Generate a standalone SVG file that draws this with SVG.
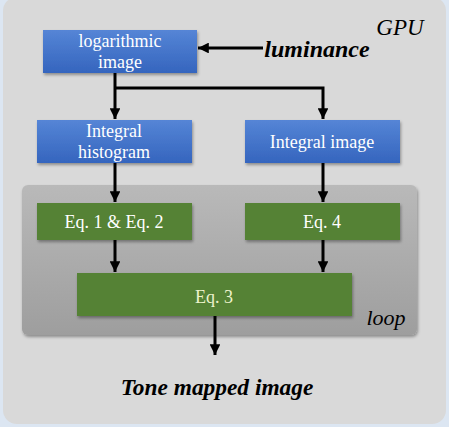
<svg xmlns="http://www.w3.org/2000/svg" width="449" height="427" viewBox="0 0 449 427" font-family="'Liberation Serif', 'DejaVu Serif', 'Times New Roman', serif">
<defs>
<linearGradient id="blue" x1="0" y1="0" x2="0" y2="1"><stop offset="0" stop-color="#5585d6"/><stop offset="1" stop-color="#3565be"/></linearGradient>
<linearGradient id="loopg" x1="0" y1="0" x2="0" y2="1"><stop offset="0" stop-color="#b9b9b9"/><stop offset="1" stop-color="#9e9e9e"/></linearGradient>
<filter id="sh" x="-10%" y="-10%" width="120%" height="130%"><feDropShadow dx="1" dy="2" stdDeviation="1.5" flood-color="#000" flood-opacity="0.35"/></filter>
<marker id="ah" viewBox="0 0 10 10" refX="10" refY="5" markerWidth="3.6" markerHeight="3.6" orient="auto" markerUnits="strokeWidth"><path d="M0,0 L10,5 L0,10 z" fill="#000"/></marker>
<style>
.bl{fill:url(#blue);filter:url(#sh)}
.gr{fill:#548235;filter:url(#sh)}
.t{font-size:18px;fill:#fff;text-anchor:middle}
.c{fill:none;stroke:#000;stroke-width:3}
.lbl{fill:#000}
</style>
</defs>
<rect width="449" height="427" fill="#dce6f2"/>
<rect x="3" y="-3" width="443" height="427" rx="14" fill="#d9d9d9"/>
<text class="lbl" x="400" y="35" font-size="23" font-style="italic" text-anchor="middle">GPU</text>
<g id="loop">
<rect x="22" y="185" width="395" height="150" rx="6" fill="url(#loopg)" filter="url(#sh)"/>
<text class="lbl" x="386" y="325" font-size="22" font-style="italic" text-anchor="middle">loop</text>
</g>
<g id="logimg"><rect class="bl" x="43" y="30" width="154" height="43"/><text class="t" x="120" y="47">logarithmic</text><text class="t" x="120" y="68">image</text></g>
<g id="inthist"><rect class="bl" x="37" y="120" width="155" height="43"/><text class="t" x="114" y="137">Integral</text><text class="t" x="114" y="158">histogram</text></g>
<g id="intimg"><rect class="bl" x="245" y="120" width="155" height="43"/><text class="t" x="322" y="148">Integral image</text></g>
<g id="eq12"><rect class="gr" x="37" y="203" width="155" height="37"/><text class="t" x="114" y="228">Eq. 1 &amp; Eq. 2</text></g>
<g id="eq4"><rect class="gr" x="245" y="203" width="155" height="37"/><text class="t" x="322" y="228">Eq. 4</text></g>
<g id="eq3"><rect class="gr" x="77" y="273" width="275" height="43"/><text class="t" x="214" y="303" style="fill:#eef3cc">Eq. 3</text></g>
<g id="lum"><text class="lbl" x="317" y="57" font-size="24" font-style="italic" font-weight="bold" text-anchor="middle">luminance</text></g>
<g id="tone"><text class="lbl" x="217" y="395" font-size="23.4" font-style="italic" font-weight="bold" text-anchor="middle">Tone mapped image</text></g>
<g id="connectors">
<path class="c" d="M263,48 H198" marker-end="url(#ah)"/>
<path class="c" d="M115,73 V119" marker-end="url(#ah)"/>
<path class="c" d="M115,88 H323 V119" marker-end="url(#ah)"/>
<path class="c" d="M115,163 V202" marker-end="url(#ah)"/>
<path class="c" d="M323,163 V202" marker-end="url(#ah)"/>
<path class="c" d="M115,240 V272" marker-end="url(#ah)"/>
<path class="c" d="M323,240 V272" marker-end="url(#ah)"/>
<path class="c" d="M215,316 V355" marker-end="url(#ah)"/>
</g>
</svg>
